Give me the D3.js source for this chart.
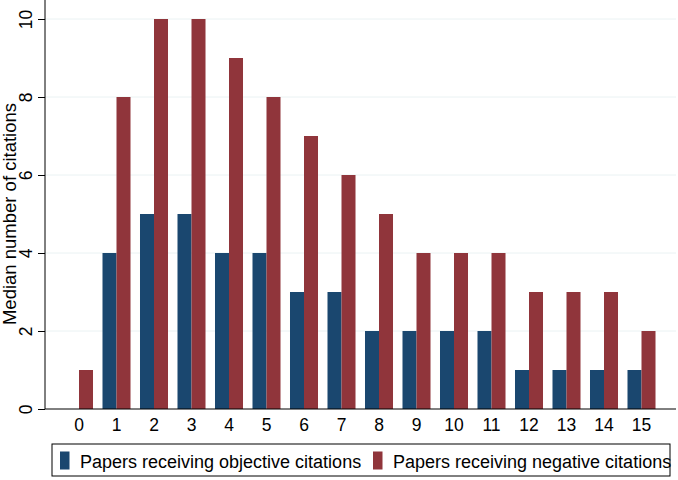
<!DOCTYPE html>
<html><head><meta charset="utf-8">
<script src="https://cdn.jsdelivr.net/npm/d3@7"></script>
<style>html,body{margin:0;padding:0;background:#fff;} text{font-family:"Liberation Sans",Arial,Helvetica,sans-serif;fill:#000;}</style>
</head><body>
<svg id="chart" width="678" height="480"></svg>
<script>
const categories = [0,1,2,3,4,5,6,7,8,9,10,11,12,13,14,15];
const objective = [0,4,5,5,4,4,3,3,2,2,2,2,1,1,1,1];
const negative = [1,8,10,10,9,8,7,6,5,4,4,4,3,3,3,2];
const yTicks = [0,2,4,6,8,10];
const seriesNames = ["Papers receiving objective citations","Papers receiving negative citations"];
const colors = ["#1a476f","#90353b"];

const svg = d3.select("#chart");
const L = 45, R = 676, T = 19, B = 409;
const x0 = d3.scaleBand().domain(categories).range([60.25, 660.25]).paddingInner(0).paddingOuter(0);
const x1 = d3.scaleBand().domain([0,1]).range([0, x0.bandwidth()]).paddingInner(0).paddingOuter(0.339);
const y = d3.scaleLinear().domain([0,10]).range([B, T]);

// gridlines
svg.append("g").selectAll("line").data(yTicks.filter(d=>d>0)).join("line")
  .attr("x1", L).attr("x2", R).attr("y1", d=>y(d)).attr("y2", d=>y(d))
  .attr("stroke", "#eaf2f3").attr("stroke-width", 1);

// bars
const series = [objective, negative];
series.forEach((vals, si) => {
  svg.append("g").selectAll("rect").data(categories).join("rect")
    .attr("x", d => x0(d) + x1(si))
    .attr("width", x1.bandwidth())
    .attr("y", (d,i) => y(vals[i]))
    .attr("height", (d,i) => y(0) - y(vals[i]))
    .attr("fill", colors[si]);
});

// y axis
const yAxis = d3.axisLeft(y).tickValues(yTicks).tickSize(7).tickPadding(5).tickFormat(d3.format("d"));
const gy = svg.append("g").attr("transform", `translate(${L},0)`).call(yAxis);
gy.select(".domain").attr("d", `M0,0V${B}`).attr("stroke","#000");
gy.selectAll(".tick line").attr("stroke","#000");
gy.selectAll(".tick text").attr("transform","rotate(-90)").attr("x",0).attr("y",-13)
  .attr("dy",0).attr("text-anchor","middle").style("font-size","17.5px").attr("font-family",null);

// x axis
const xAxis = d3.axisBottom(x0).tickSize(0).tickPadding(10);
const gx = svg.append("g").attr("transform", `translate(0,${B})`).call(xAxis);
gx.select(".domain").attr("d", `M${L},0H${R}`).attr("stroke","#000");
gx.selectAll(".tick text").style("font-size","17.5px").attr("font-family",null).attr("dy","0.71em");

// y title
svg.append("text").attr("transform", `translate(16,${(T+B)/2}) rotate(-90)`)
  .attr("text-anchor","middle").style("font-size","18.5px").text("Median number of citations");

// legend
const lg = svg.append("g");
lg.append("rect").attr("x",52).attr("y",444).attr("width",618).attr("height",32)
  .attr("fill","#fff").attr("stroke","#000").attr("stroke-width",1);
const keyX = [60, 373];
seriesNames.forEach((n,i)=>{
  lg.append("rect").attr("x",keyX[i]).attr("y",451.5).attr("width",9.5).attr("height",18).attr("fill",colors[i]);
  lg.append("text").attr("x",keyX[i]+20).attr("y",468).style("font-size","18px").text(n);
});
</script>
</body></html>
